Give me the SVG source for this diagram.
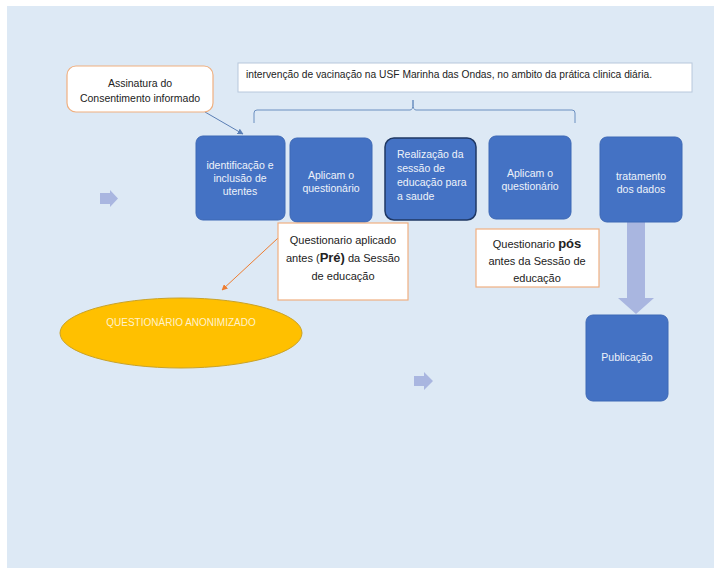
<svg xmlns="http://www.w3.org/2000/svg" width="714" height="569" viewBox="0 0 714 569">
<style>
.t{font-family:"Liberation Sans",Arial,sans-serif;font-size:10.5px;}
.w{fill:#eef2fa;text-anchor:middle;}
.k{fill:#222;}
.b{fill:#4472c4;stroke:#3d68b5;stroke-width:1;}
.n{fill:#fff;stroke:#f0b080;stroke-width:1.2;}
.q{font-family:"Liberation Sans",Arial,sans-serif;font-size:11px;fill:#222;text-anchor:middle;}
</style>
<defs>
<marker id="ab" viewBox="0 0 10 10" refX="9" refY="5" markerWidth="6" markerHeight="6" orient="auto"><path d="M0,0L10,5L0,10z" fill="#5b7fb5"/></marker>
<marker id="ao" viewBox="0 0 10 10" refX="9" refY="5" markerWidth="6" markerHeight="6" orient="auto"><path d="M0,0L10,5L0,10z" fill="#ed7d31"/></marker>
</defs>
<rect x="0" y="0" width="714" height="569" fill="#fff"/>
<rect x="7" y="6" width="707" height="562" fill="#dde9f5"/>

<g id="connectors">
<path d="M205,112 L243,134" stroke="#5b7fb5" stroke-width="1" fill="none" marker-end="url(#ab)"/>
<path d="M291,226 L222,290" stroke="#ed7d31" stroke-width="1" fill="none" marker-end="url(#ao)"/>
<path d="M254,123 L254,113 Q254,110 257,110 L410,110 Q413,110 413,104 L413,100 M413,100 L413,104 Q413,110 416,110 L572,110 Q575,110 575,113 L575,123" stroke="#6b8fc0" stroke-width="1" fill="none"/>
<path d="M627,222 L645,222 L645,298 L654,298 L636,314 L618,298 L627,298 Z" fill="#a9b6e0"/>
<path d="M100,193 L110,193 L110,190 L118,198.5 L110,207 L110,204 L100,204 Z" fill="#a9b6e0"/>
<path d="M414,376 L424,376 L424,372 L433,381 L424,390 L424,386 L414,386 Z" fill="#a9b6e0"/>
</g>

<g id="assinatura">
<rect x="67" y="66" width="146" height="46" rx="9" class="n"/>
<text class="t" x="140" y="87" text-anchor="middle" fill="#222">Assinatura do</text>
<text class="t" x="140" y="102" text-anchor="middle" fill="#222">Consentimento informado</text>
</g>

<g id="topo">
<rect x="238" y="63" width="454" height="29" fill="#fff" stroke="#b8c8dc" stroke-width="1"/>
<text class="t k" x="246" y="78" textLength="406" lengthAdjust="spacingAndGlyphs">intervenção de vacinação na USF Marinha das Ondas, no ambito da prática clinica diária.</text>
</g>

<g id="identificacao">
<rect x="196" y="136" width="89" height="84" rx="7" class="b"/>
<text class="t w" x="240" y="169">identificação e</text>
<text class="t w" x="240" y="182">inclusão de</text>
<text class="t w" x="240" y="195">utentes</text>
</g>

<g id="aplicam1">
<rect x="290" y="138" width="82" height="84" rx="7" class="b"/>
<text class="t w" x="331" y="179">Aplicam o</text>
<text class="t w" x="331" y="192">questionário</text>
</g>

<g id="realizacao">
<rect x="385" y="138" width="91" height="82" rx="9" fill="#4472c4" stroke="#1f3864" stroke-width="1.5"/>
<text class="t" x="397" y="158" fill="#eef2fa">Realização da</text>
<text class="t" x="397" y="172" fill="#eef2fa">sessão de</text>
<text class="t" x="397" y="186" fill="#eef2fa">educação para</text>
<text class="t" x="397" y="200" fill="#eef2fa">a saude</text>
</g>

<g id="aplicam2">
<rect x="489" y="136" width="82" height="83" rx="7" class="b"/>
<text class="t w" x="530" y="177">Aplicam o</text>
<text class="t w" x="530" y="190">questionário</text>
</g>

<g id="tratamento">
<rect x="600" y="137" width="82" height="85" rx="7" class="b"/>
<text class="t w" x="641" y="180">tratamento</text>
<text class="t w" x="641" y="193">dos dados</text>
</g>

<g id="publicacao">
<rect x="586" y="315" width="82" height="86" rx="7" class="b"/>
<text class="t w" x="627" y="361">Publicação</text>
</g>

<g id="pre">
<rect x="278" y="223" width="130" height="77" class="n"/>
<text class="q" x="343" y="244">Questionario aplicado</text>
<text class="q" x="343" y="262">antes (<tspan font-weight="bold" font-size="13">Pré)</tspan> da Sessão</text>
<text class="q" x="343" y="280">de educação</text>
</g>

<g id="pos">
<rect x="476" y="229" width="123" height="58" class="n"/>
<text class="q" x="537" y="248">Questionario <tspan font-weight="bold" font-size="13">pós</tspan></text>
<text class="q" x="537" y="265">antes da Sessão de</text>
<text class="q" x="537" y="282">educação</text>
</g>

<g id="anonimizado">
<ellipse cx="181" cy="333" rx="121" ry="35" fill="#ffc000" stroke="#c9a227" stroke-width="1"/>
<text x="181" y="326" text-anchor="middle" font-family="Liberation Sans,Arial,sans-serif" font-size="10" fill="#fff2cc">QUESTIONÁRIO ANONIMIZADO</text>
</g>
</svg>
